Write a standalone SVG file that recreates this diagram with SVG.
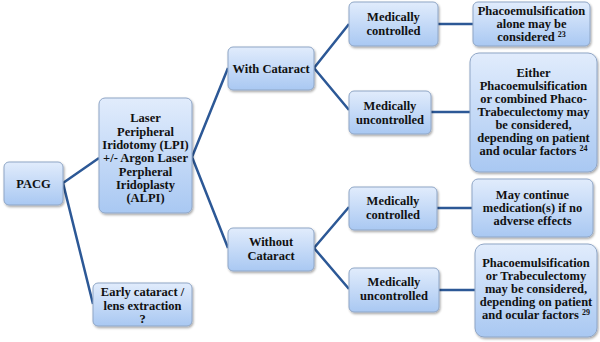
<svg xmlns="http://www.w3.org/2000/svg" width="600" height="342" viewBox="0 0 600 342">
<defs>
<linearGradient id="g" x1="0" y1="0" x2="0" y2="1">
<stop offset="0" stop-color="#e1ecfc"/>
<stop offset="1" stop-color="#a9c8f2"/>
</linearGradient>
<filter id="sh" x="-10%" y="-10%" width="130%" height="140%">
<feDropShadow dx="1" dy="1.5" stdDeviation="1.2" flood-color="#000" flood-opacity="0.35"/>
</filter>
</defs>
<style>
.b{fill:url(#g);stroke:#8fa6c6;stroke-width:1;filter:url(#sh)}
.t{font-family:"Liberation Serif",serif;font-weight:bold;font-size:12.5px;fill:#111;text-anchor:middle}
.c{fill:none;stroke:#2c5896;stroke-width:2.5}
.s{font-size:8px}
</style>
<rect width="600" height="342" fill="#fff"/>
<g id="connectors">
<polyline class="c" points="99,158 63,183 93,304"/>
<polyline class="c" points="228,68 192,157 228,248"/>
<polyline class="c" points="349,24 314,68 349,110"/>
<polyline class="c" points="349,207 314,248 349,289"/>
<line class="c" x1="438" y1="24" x2="473" y2="24"/>
<line class="c" x1="431" y1="112" x2="470" y2="112"/>
<line class="c" x1="437" y1="208" x2="472" y2="208"/>
<line class="c" x1="439" y1="290" x2="475" y2="290"/>
</g>
<g id="pacg">
<rect class="b" x="4" y="162" width="59" height="43" rx="5"/>
<text class="t" x="33.5" y="188">PACG</text>
</g>
<g id="lpi">
<rect class="b" x="99" y="98" width="93" height="115" rx="6"/>
<text class="t" x="145.5" y="122">Laser</text>
<text class="t" x="145.5" y="135.5">Peripheral</text>
<text class="t" x="145.5" y="149">Iridotomy (LPI)</text>
<text class="t" x="145.5" y="162">+/- Argon Laser</text>
<text class="t" x="145.5" y="175.5">Perpheral</text>
<text class="t" x="145.5" y="189">Iridoplasty</text>
<text class="t" x="145.5" y="202">(ALPI)</text>
</g>
<g id="early">
<rect class="b" x="93" y="283" width="99" height="43" rx="5"/>
<text class="t" x="142.5" y="296">Early cataract /</text>
<text class="t" x="142.5" y="309.5">lens extraction</text>
<text class="t" x="142.5" y="323">?</text>
</g>
<g id="with">
<rect class="b" x="228" y="47" width="86" height="43" rx="5"/>
<text class="t" x="271" y="73">With Cataract</text>
</g>
<g id="without">
<rect class="b" x="228" y="228" width="86" height="43" rx="5"/>
<text class="t" x="271" y="246">Without</text>
<text class="t" x="271" y="260">Cataract</text>
</g>
<g id="mc1">
<rect class="b" x="349" y="2" width="89" height="44" rx="5"/>
<text class="t" x="393.5" y="21">Medically</text>
<text class="t" x="393.5" y="35">controlled</text>
</g>
<g id="mu1">
<rect class="b" x="349" y="91" width="82" height="43" rx="5"/>
<text class="t" x="390" y="110">Medically</text>
<text class="t" x="390" y="124">uncontrolled</text>
</g>
<g id="mc2">
<rect class="b" x="349" y="187" width="88" height="43" rx="5"/>
<text class="t" x="393" y="205">Medically</text>
<text class="t" x="393" y="219">controlled</text>
</g>
<g id="mu2">
<rect class="b" x="349" y="268" width="90" height="44" rx="5"/>
<text class="t" x="394" y="286">Medically</text>
<text class="t" x="394" y="300">uncontrolled</text>
</g>
<g id="r1">
<rect class="b" x="473" y="2" width="117" height="44" rx="5"/>
<text class="t" x="531.5" y="15">Phacoemulsification</text>
<text class="t" x="531.5" y="28">alone may be</text>
<text class="t" x="531.5" y="41">considered <tspan class="s" dy="-4">23</tspan></text>
</g>
<g id="r2">
<rect class="b" x="470" y="53" width="127" height="119" rx="9"/>
<text class="t" x="533.5" y="77">Either</text>
<text class="t" x="533.5" y="90">Phacoemulsification</text>
<text class="t" x="533.5" y="103">or combined Phaco-</text>
<text class="t" x="533.5" y="116">Trabeculectomy may</text>
<text class="t" x="533.5" y="129">be considered,</text>
<text class="t" x="533.5" y="142">depending on patient</text>
<text class="t" x="533.5" y="155">and ocular factors <tspan class="s" dy="-4">24</tspan></text>
</g>
<g id="r3">
<rect class="b" x="472" y="179" width="121" height="58" rx="6"/>
<text class="t" x="532.5" y="199">May continue</text>
<text class="t" x="532.5" y="212">medication(s) if no</text>
<text class="t" x="532.5" y="225">adverse effects</text>
</g>
<g id="r4">
<rect class="b" x="475" y="244" width="122" height="93" rx="9"/>
<text class="t" x="536" y="267">Phacoemulsification</text>
<text class="t" x="536" y="280">or Trabeculectomy</text>
<text class="t" x="536" y="293">may be considered,</text>
<text class="t" x="536" y="306">depending on patient</text>
<text class="t" x="536" y="319">and ocular factors <tspan class="s" dy="-4">29</tspan></text>
</g>
</svg>
